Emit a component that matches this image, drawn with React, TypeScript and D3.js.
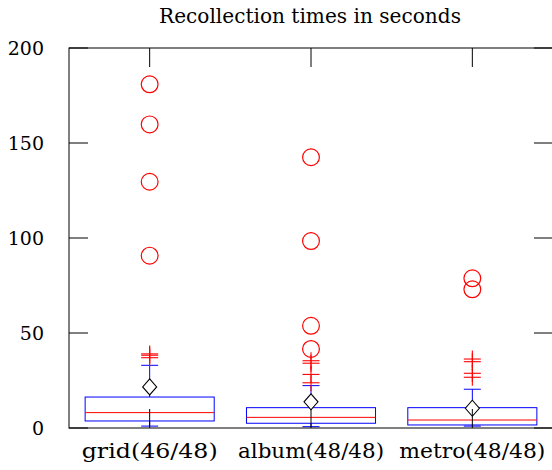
import React from "react";
import * as d3 from "d3";

const categories = ["grid(46/48)", "album(48/48)", "metro(48/48)"];
const whiskerLow = [1, 0.7, 1];
const q1 = [3.7, 2.5, 1.6];
const median = [8.1, 5.6, 4.2];
const q3 = [16.3, 10.7, 10.7];
const whiskerHigh = [33, 22.3, 20.4];
const means = [21.6, 13.8, 10.4];
const mildOutliers = [
  [37, 38.3, 39],
  [23.8, 28.2, 34.1, 35.4],
  [26.7, 28.8, 34.9, 36.3],
];
const extremeOutliers = [
  [90.7, 129.6, 159.8, 180.9],
  [41.6, 53.8, 98.4, 142.5],
  [73, 78.8],
];
const yTicks = [0, 50, 100, 150, 200];
const title = "Recollection times in seconds";

const W = 552;
const H = 470;
const left = 69;
const right = 553;
const top = 48;
const bottom = 428;
const font = "DejaVu Serif";

export default function App() {
  const x = d3.scaleLinear().domain([0.5, 3.5]).range([left, right]);
  const y = d3.scaleLinear().domain([0, 200]).range([bottom, top]);
  const bw = x(1.4) - x(1);
  const cap = 8.5;
  const tick = 19;
  const red = "#ff0000";
  const blue = "#0000ff";

  return (
    <svg width={W} height={H} style={{ position: "absolute", left: 0, top: 0 }}>
      <rect x={0} y={0} width={W} height={H} fill="#fff" />
      <text x={310} y={23} textAnchor="middle" fontFamily={font} fontSize={20} fill="#000" textLength={302} lengthAdjust="spacingAndGlyphs">
        {title}
      </text>
      {categories.map((c, i) => {
        const cx = x(i + 1);
        return (
          <g key={c}>
            <line x1={cx} x2={cx} y1={y(q3[i])} y2={y(whiskerHigh[i])} stroke={blue} strokeWidth={1} />
            <line x1={cx} x2={cx} y1={y(q1[i])} y2={y(whiskerLow[i])} stroke={blue} strokeWidth={1} />
            <line x1={cx - cap} x2={cx + cap} y1={y(whiskerHigh[i])} y2={y(whiskerHigh[i])} stroke={blue} strokeWidth={1} />
            <line x1={cx - cap} x2={cx + cap} y1={y(whiskerLow[i])} y2={y(whiskerLow[i])} stroke={blue} strokeWidth={1} />
            <rect x={cx - bw} y={y(q3[i])} width={2 * bw} height={y(q1[i]) - y(q3[i])} fill="none" stroke={blue} strokeWidth={1} />
            <line x1={cx - bw} x2={cx + bw} y1={y(median[i])} y2={y(median[i])} stroke={red} strokeWidth={1} />
            <path
              d={`M${cx},${y(means[i]) - 8} L${cx + 7},${y(means[i])} L${cx},${y(means[i]) + 8} L${cx - 7},${y(means[i])} Z`}
              fill="#fff"
              stroke="#000"
              strokeWidth={1.1}
            />
            {mildOutliers[i].map((v, j) => (
              <g key={j} stroke={red} strokeWidth={1.1}>
                <line x1={cx - cap} x2={cx + cap} y1={y(v)} y2={y(v)} />
                <line x1={cx} x2={cx} y1={y(v) - cap} y2={y(v) + cap} />
              </g>
            ))}
            {extremeOutliers[i].map((v, j) => (
              <circle key={j} cx={cx} cy={y(v)} r={8.4} fill="none" stroke={red} strokeWidth={1.2} />
            ))}
            <text x={cx} y={458} textAnchor="middle" fontFamily={font} fontSize={21} fill="#000" textLength={c.startsWith("grid") ? 136 : 146} lengthAdjust="spacingAndGlyphs">
              {c}
            </text>
          </g>
        );
      })}
      <rect x={left} y={top} width={right - left} height={bottom - top} fill="none" stroke="#000" strokeWidth={1} />
      {yTicks.map((t) => (
        <g key={t}>
          <line x1={left} x2={left + tick} y1={y(t)} y2={y(t)} stroke="#000" strokeWidth={1} />
          <line x1={right - tick} x2={right} y1={y(t)} y2={y(t)} stroke="#000" strokeWidth={1} />
          <text x={44} y={y(t)} dy="0.35em" textAnchor="end" fontFamily={font} fontSize={19} fill="#000">
            {t}
          </text>
        </g>
      ))}
      {categories.map((c, i) => (
        <g key={c + "t"}>
          <line x1={x(i + 1)} x2={x(i + 1)} y1={top} y2={top + tick} stroke="#000" strokeWidth={1} />
          <line x1={x(i + 1)} x2={x(i + 1)} y1={bottom} y2={bottom - tick} stroke="#000" strokeWidth={1} />
        </g>
      ))}
    </svg>
  );
}
